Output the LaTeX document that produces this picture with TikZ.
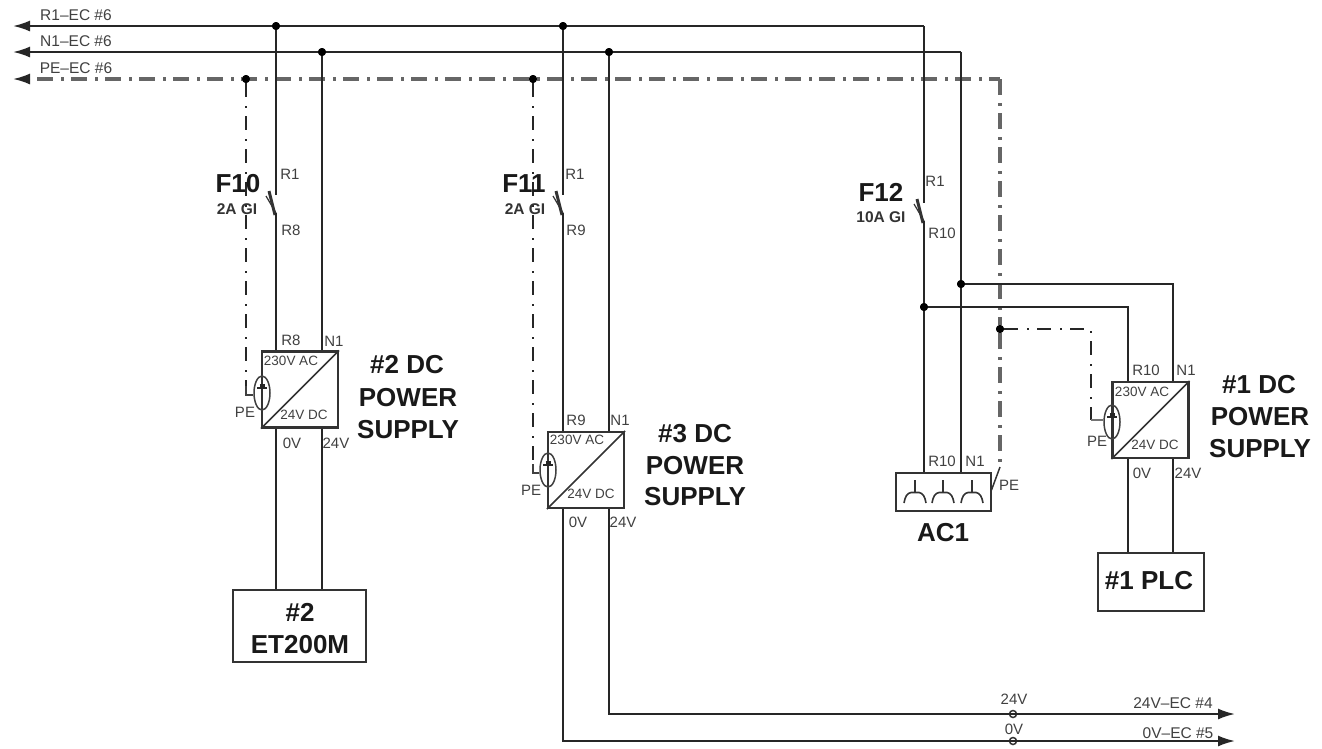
\documentclass[tikz,border=0pt]{standalone}
\usepackage{fontspec}
\setmainfont{Liberation Sans}
\usetikzlibrary{arrows.meta,shapes.geometric}
\tikzset{
	wire/.style={line width=2pt, black!85},
	pewire/.style={line width=1.8pt, black!85, dash pattern=on 14pt off 9pt on 2pt off 8pt},
	pebus/.style={line width=3.1pt, black!60, dash pattern=on 16pt off 8pt on 2.5pt off 7.5pt},
	busarrow/.style={-{Latex[length=17pt,width=11pt]}},
	junction/.style={circle, fill=black, inner sep=0pt, minimum size=8pt},
	tap/.style={circle, draw=black!80, line width=1.5pt, inner sep=0pt, minimum size=7pt},
	box/.style={draw=black!80, line width=2.2pt, inner sep=0pt},
	psbox/.style={box, minimum width=76pt, minimum height=76pt},
	earth/.style={ellipse, draw=black!75, line width=1.5pt, inner sep=0pt, minimum width=16pt, minimum height=34pt},
	lbl/.style={font=\fontsize{15}{15}\selectfont, text=black!75, inner sep=0pt},
	buslbl/.style={font=\fontsize{15.5}{15.5}\selectfont, text=black!75, inner sep=0pt},
	inlbl/.style={font=\fontsize{13.5}{13.5}\selectfont, text=black!75, inner sep=0pt},
	title/.style={font=\fontsize{26}{26}\selectfont\bfseries, text=black!90, inner sep=0pt},
	fuse/.style={font=\fontsize{15.5}{15.5}\selectfont\bfseries, text=black!80, inner sep=0pt}
}
\begin{document}
\begin{tikzpicture}[x=1pt, y=-1pt]
	\useasboundingbox (0,0) rectangle (1322,748);

	\coordinate (rend) at (13,26);
	\coordinate (nend) at (13,52);
	\coordinate (pend) at (13,79);
	\coordinate (pstart) at (30,79);
	\coordinate (pdash) at (37,79);
	\coordinate (rcorner) at (924,26);
	\coordinate (ncorner) at (961,52);
	\coordinate (pcorner) at (1000,79);

	\node[junction] (r2) at (276,26) {};
	\node[junction] (n2) at (322,52) {};
	\node[junction] (p2) at (246,79) {};
	\node[junction] (r3) at (563,26) {};
	\node[junction] (n3) at (609,52) {};
	\node[junction] (p3) at (533,79) {};
	\node[junction] (r1) at (924,307) {};
	\node[junction] (n1) at (961,284) {};
	\node[junction] (p1) at (1000,329) {};

	\node[psbox] (ps2) at (300,389.5) {};
	\node[psbox] (ps3) at (586,470) {};
	\node[psbox] (ps1) at (1150.5,420) {};
	\node[box, minimum width=133pt, minimum height=72pt] (et200) at (299.5,626) {};
	\node[box, minimum width=106pt, minimum height=58pt] (plc) at (1151,582) {};
	\node[box, minimum width=95pt, minimum height=38pt] (ac1) at (943.5,492) {};

	\draw[wire, busarrow] (rcorner) -- (rend);
	\draw[wire, busarrow] (ncorner) -- (nend);
	\draw[pebus] (pdash) -- (pcorner);
	\draw[wire, busarrow] (pstart) -- (pend);
	\draw[pebus] (pcorner) -- (p1);

	\coordinate (f10a) at (276,195);
	\coordinate (f10b) at (276,213);
	\coordinate (f11a) at (563,195);
	\coordinate (f11b) at (563,213);
	\coordinate (f12a) at (924,203);
	\coordinate (f12b) at (924,221);
	\foreach \sw in {f10,f11,f12}{
		\draw[line width=1.2pt, black!80] (\sw b) -- ([xshift=-10pt,yshift=-1pt]\sw a);
		\draw[line width=3pt, black!80] ([xshift=-1pt,yshift=-2pt]\sw b) -- ([xshift=-7pt,yshift=4pt]\sw a);
	}

	\draw[wire] (r2) -- (f10a);
	\draw[wire] (f10b) -- (r2 |- ps2.north);
	\draw[wire] (n2) -- (n2 |- ps2.north);
	\draw[wire] (r2 |- ps2.south) -- (r2 |- et200.north);
	\draw[wire] (n2 |- ps2.south) -- (n2 |- et200.north);

	\draw[wire] (r3) -- (f11a);
	\draw[wire] (f11b) -- (r3 |- ps3.north);
	\draw[wire] (n3) -- (n3 |- ps3.north);

	\coordinate (out24) at (1235,714);
	\coordinate (out0) at (1235,741);
	\node[tap] (t24) at (1013,714) {};
	\node[tap] (t0) at (1013,741) {};
	\draw[wire, busarrow] (n3 |- ps3.south) |- (out24);
	\draw[wire, busarrow] (r3 |- ps3.south) |- (out0);

	\draw[wire] (rcorner) -- (f12a);
	\draw[wire] (f12b) -- (r1);
	\draw[wire] (ncorner) -- (n1);
	\draw[wire] (r1) -- (r1 |- ac1.north);
	\draw[wire] (n1) -- (n1 |- ac1.north);
	\draw[pebus] (p1) -- (1000,467);
	\draw[line width=1.5pt, black!80] (1000,467) -- (991.5,490);

	\coordinate (r1top) at (1128,307);
	\coordinate (n1top) at (1173,284);
	\draw[wire] (r1) -- (r1top) -- (r1top |- ps1.north);
	\draw[wire] (n1) -- (n1top) -- (n1top |- ps1.north);
	\draw[wire] (r1top |- ps1.south) -- (r1top |- plc.north);
	\draw[wire] (n1top |- ps1.south) -- (n1top |- plc.north);

	\foreach \ps in {ps1,ps2,ps3}
		\draw[line width=1.5pt, black!80] (\ps.south west) -- (\ps.north east);

	\node[earth] (el2) at (262,393) {};
	\node[earth] (el3) at (548,470) {};
	\node[earth] (el1) at (1112,422) {};
	\foreach \el in {el1,el2,el3}{
		\draw[line width=1.6pt, black!85] ([xshift=-5pt,yshift=5pt]\el.center) -- ([xshift=5pt,yshift=5pt]\el.center);
		\draw[line width=2.4pt, black!85] ([xshift=-2.5pt,yshift=7.5pt]\el.center) -- ([xshift=2.5pt,yshift=7.5pt]\el.center);
	}

	\coordinate (pe2) at (246,395);
	\coordinate (pe3) at (533,473);
	\coordinate (pe1a) at (1091,329);
	\coordinate (pe1b) at (1091,420);
	\draw[pewire] (p2) -- (pe2);
	\draw[line width=1.8pt, black!75] (246,386) -- (pe2) -- (el2.west |- pe2);
	\draw[pewire] (p3) -- (pe3);
	\draw[line width=1.8pt, black!75] (533,464) -- (pe3) -- (el3.west |- pe3);
	\draw[pewire] (p1) -- (pe1a) -- (pe1b);
	\draw[line width=1.8pt, black!55] (pe1b) -- (el1.west |- pe1b);

	\foreach \sx in {915,943,972}{
		\draw[line width=1.8pt, black!80] (\sx,480) -- (\sx,493);
		\draw[line width=1.6pt, black!80] (\sx-11,503) .. controls (\sx-10,497) and (\sx-8,493) .. (\sx-4,492.5) -- (\sx+4,492.5) .. controls (\sx+8,493) and (\sx+10,497) .. (\sx+11,503);
	}

	\foreach \j in {r2,n2,p2,r3,n3,p3,r1,n1,p1}
		\fill[black] (\j) circle (4pt);

	\node[buslbl] (lr) at (76,15) {R1–EC \#6};
	\node[buslbl] (ln) at (76,41) {N1–EC \#6};
	\node[buslbl] (lp) at (76,68) {PE–EC \#6};

	\node[title] (f10) at (238,184) {F10};
	\node[fuse] (f10v) at (237,209) {2A GI};
	\node[lbl] (f10r) at (290,174) {R1};
	\node[lbl] (f10s) at (291,230) {R8};
	\node[title] (f11) at (524,184) {F11};
	\node[fuse] (f11v) at (525,209) {2A GI};
	\node[lbl] (f11r) at (575,174) {R1};
	\node[lbl] (f11s) at (576,230) {R9};
	\node[title] (f12) at (881,192) {F12};
	\node[fuse] (f12v) at (881,217) {10A GI};
	\node[lbl] (f12r) at (935,181) {R1};
	\node[lbl] (f12s) at (942,233) {R10};

	\node[lbl] (a2r) at (291,340) {R8};
	\node[lbl] (a2n) at (334,341) {N1};
	\node[inlbl] (a2i) at (291,361) {230V AC};
	\node[inlbl] (a2o) at (304,415) {24V DC};
	\node[lbl] (a2p) at (245,412) {PE};
	\node[lbl] (a20) at (292,443) {0V};
	\node[lbl] (a224) at (336,443) {24V};
	\node[title] (t2a) at (407,365) {\#2 DC};
	\node[title] (t2b) at (408,398) {POWER};
	\node[title] (t2c) at (408,430) {SUPPLY};

	\node[lbl] (a3r) at (576,420) {R9};
	\node[lbl] (a3n) at (620,420) {N1};
	\node[inlbl] (a3i) at (577,440) {230V AC};
	\node[inlbl] (a3o) at (591,494) {24V DC};
	\node[lbl] (a3p) at (531,490) {PE};
	\node[lbl] (a30) at (578,522) {0V};
	\node[lbl] (a324) at (623,522) {24V};
	\node[title] (t3a) at (695,434) {\#3 DC};
	\node[title] (t3b) at (695,466) {POWER};
	\node[title] (t3c) at (695,497) {SUPPLY};

	\node[lbl] (a1r) at (1146,370) {R10};
	\node[lbl] (a1n) at (1186,370) {N1};
	\node[inlbl] (a1i) at (1142,392) {230V AC};
	\node[inlbl] (a1o) at (1155,445) {24V DC};
	\node[lbl] (a1p) at (1097,441) {PE};
	\node[lbl] (a10) at (1142,473) {0V};
	\node[lbl] (a124) at (1188,473) {24V};
	\node[title] (t1a) at (1259,385) {\#1 DC};
	\node[title] (t1b) at (1260,417) {POWER};
	\node[title] (t1c) at (1260,449) {SUPPLY};

	\node[lbl] (acr) at (942,461) {R10};
	\node[lbl] (acn) at (975,461) {N1};
	\node[lbl] (acp) at (1009,485) {PE};
	\node[title] (actxt) at (943,533) {AC1};
	\node[title] (plctxt) at (1149,581) {\#1 PLC};
	\node[title] (ettxt1) at (300,612) {\#2};
	\node[title] (ettxt2) at (300,645) {ET200M};

	\node[lbl] (l24) at (1014,699) {24V};
	\node[lbl] (l0) at (1014,729) {0V};
	\node[buslbl] (o24) at (1173,703) {24V–EC \#4};
	\node[buslbl] (o0) at (1178,733) {0V–EC \#5};
\end{tikzpicture}
\end{document}
